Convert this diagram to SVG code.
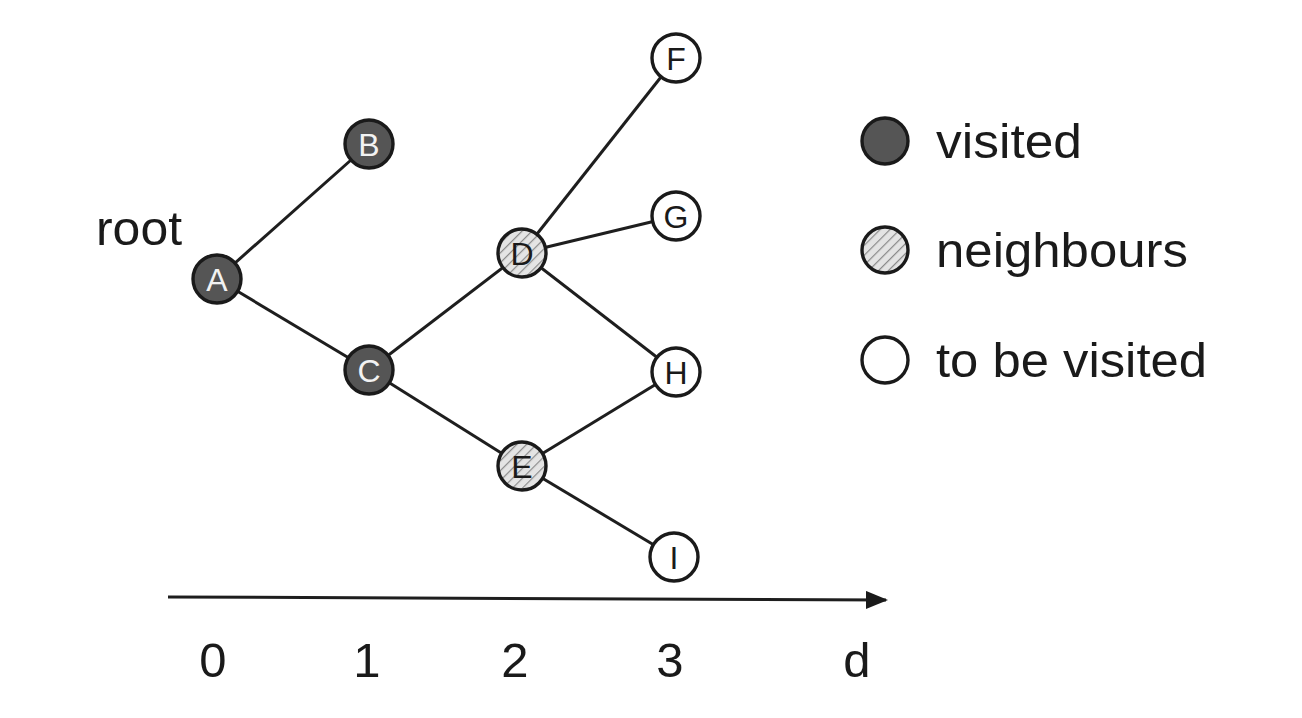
<svg xmlns="http://www.w3.org/2000/svg" width="1302" height="718" viewBox="0 0 1302 718">
<defs>
<pattern id="hatch" patternUnits="userSpaceOnUse" width="7" height="7" patternTransform="rotate(45)">
<rect width="7" height="7" fill="#e4e4e4"/>
<line x1="0" y1="0" x2="0" y2="7" stroke="#8a8a8a" stroke-width="2.4"/>
</pattern>
<marker id="arrow" markerWidth="22" markerHeight="18" refX="20" refY="9" orient="auto" markerUnits="userSpaceOnUse">
<path d="M0,0 L22,9 L0,18 Z" fill="#1a1a1a"/>
</marker>
</defs>
<style>
.edge{stroke:#1e1e1e;stroke-width:3;fill:none}
.node circle{stroke:#1a1a1a;stroke-width:3.4}
.visited circle{fill:#555}
.neigh circle{fill:url(#hatch)}
.todo circle{fill:#fff}
.lbl{font-family:"Liberation Sans",Arial,sans-serif;font-size:32px;text-anchor:middle}
.visited .lbl{fill:#f2f2f2}
.neigh .lbl,.todo .lbl{fill:#1a1a1a}
.big{font-family:"Liberation Sans",Arial,sans-serif;font-size:49px;fill:#1a1a1a}
</style>
<rect width="1302" height="718" fill="#fff"/>
<g id="connectors">
<line class="edge" x1="217" y1="279" x2="369" y2="144"/>
<line class="edge" x1="217" y1="279" x2="369" y2="370"/>
<line class="edge" x1="369" y1="370" x2="522" y2="253"/>
<line class="edge" x1="369" y1="370" x2="522" y2="466"/>
<line class="edge" x1="522" y1="253" x2="676" y2="58"/>
<line class="edge" x1="522" y1="253" x2="676" y2="216"/>
<line class="edge" x1="522" y1="253" x2="676" y2="372"/>
<line class="edge" x1="522" y1="466" x2="676" y2="372"/>
<line class="edge" x1="522" y1="466" x2="674" y2="557"/>
<line class="edge" x1="168" y1="597" x2="886" y2="600" marker-end="url(#arrow)"/>
</g>
<g id="node-A" class="node visited"><circle cx="217" cy="279" r="24"/><text class="lbl" x="217" y="291">A</text></g>
<g id="node-B" class="node visited"><circle cx="369" cy="144" r="24"/><text class="lbl" x="369" y="156">B</text></g>
<g id="node-C" class="node visited"><circle cx="369" cy="370" r="24"/><text class="lbl" x="369" y="382">C</text></g>
<g id="node-D" class="node neigh"><circle cx="522" cy="253" r="24"/><text class="lbl" x="522" y="265">D</text></g>
<g id="node-E" class="node neigh"><circle cx="522" cy="466" r="24"/><text class="lbl" x="522" y="478">E</text></g>
<g id="node-F" class="node todo"><circle cx="676" cy="58" r="24"/><text class="lbl" x="676" y="70">F</text></g>
<g id="node-G" class="node todo"><circle cx="676" cy="216" r="24"/><text class="lbl" x="676" y="228">G</text></g>
<g id="node-H" class="node todo"><circle cx="676" cy="372" r="24"/><text class="lbl" x="676" y="384">H</text></g>
<g id="node-I" class="node todo"><circle cx="674" cy="557" r="24"/><text class="lbl" x="674" y="569">I</text></g>
<text class="big" x="96" y="245" textLength="86" lengthAdjust="spacingAndGlyphs">root</text>
<g id="axis-labels">
<text class="big" x="213" y="677" text-anchor="middle">0</text>
<text class="big" x="367" y="677" text-anchor="middle">1</text>
<text class="big" x="515" y="677" text-anchor="middle">2</text>
<text class="big" x="670" y="677" text-anchor="middle">3</text>
<text class="big" x="857" y="677" text-anchor="middle">d</text>
</g>
<g id="legend">
<g id="legend-visited" class="node visited"><circle cx="885" cy="141" r="23"/></g>
<text class="big" x="936" y="158" textLength="146" lengthAdjust="spacingAndGlyphs">visited</text>
<g id="legend-neighbours" class="node neigh"><circle cx="885" cy="250" r="23"/></g>
<text class="big" x="936" y="267" textLength="252" lengthAdjust="spacingAndGlyphs">neighbours</text>
<g id="legend-tobe" class="node todo"><circle cx="885" cy="360" r="23"/></g>
<text class="big" x="936" y="377" textLength="271" lengthAdjust="spacingAndGlyphs">to be visited</text>
</g>
</svg>
